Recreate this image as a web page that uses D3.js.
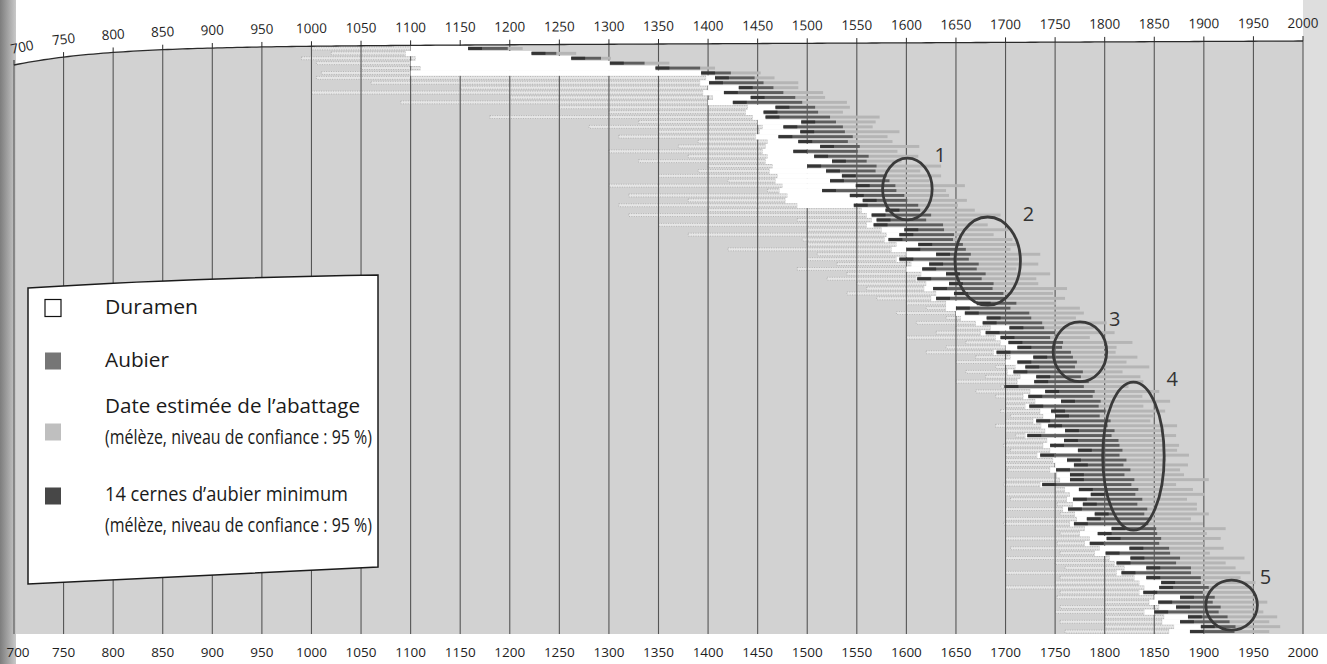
<!DOCTYPE html>
<html><head><meta charset="utf-8">
<script src="https://cdn.jsdelivr.net/npm/d3@7"></script>
<style>
html,body{margin:0;padding:0;background:#fff;}
svg{display:block;font-family:"Open Sans",sans-serif;}
</style></head><body>
<svg id="chart" width="1327" height="664"></svg>
<script>
// ---------------- DATA ----------------
const tickLabels = [700,750,800,850,900,950,1000,1050,1100,1150,1200,1250,1300,1350,1400,1450,1500,1550,1600,1650,1700,1750,1800,1850,1900,1950,2000];

// one entry per sample (row), top to bottom
const lastRing = [1198,1247,1292,1336,1392,1423,1447,1456,1466,1476,
 1488,1495,1508,1511,1523,1529,1536,1538,1546,1541,
 1553,1551,1562,1560,1570,1569,1580,1583,1589,1590,
 1598,1601,1612,1614,1625,1620,1637,1638,1648,1647,
 1657,1660,1665,1663,1673,1671,1680,1676,1688,1687,
 1698,1700,1711,1705,1724,1726,1737,1739,1750,1745,
 1758,1757,1766,1768,1772,1770,1778,1776,1784,1779,
 1790,1788,1796,1794,1801,1795,1806,1803,1810,1807,
 1814,1815,1818,1815,1822,1819,1826,1820,1830,1827,
 1834,1831,1838,1833,1843,1840,1847,1844,1852,1853,
 1857,1855,1865,1866,1876,1872,1887,1887,1897,1897,
 1905,1899,1911,1909,1917,1915,1924,1926,1932,1931];

const sapwoodRings = [40,25,30,35,45,30,40,55,35,60,
 45,70,40,55,65,35,60,45,75,50,
 40,65,55,35,70,50,45,60,40,75,
 55,45,65,35,60,50,70,40,55,65,
 45,60,35,70,50,55,40,65,45,60,
 50,70,40,55,65,45,60,35,70,50,
 55,45,75,40,60,50,70,45,55,80,
 50,65,40,70,55,45,75,60,50,85,
 55,70,45,80,60,50,75,55,65,90,
 60,45,70,55,80,50,65,75,45,60,
 55,70,40,65,50,60,45,70,55,40,
 50,60,35,55,45,65,40,50,35,45];

const fellingSpan = [15,20,10,25,15,30,20,35,25,40,
 30,45,35,25,50,40,30,55,35,45,
 60,40,50,35,65,45,55,40,70,50,
 45,60,40,55,70,50,45,65,40,60,
 55,45,70,50,60,40,65,55,45,75,
 50,60,40,70,55,45,65,50,60,40,
 70,55,45,65,50,75,40,60,55,45,
 65,50,70,45,60,55,40,70,50,65,
 45,60,55,70,40,65,50,60,75,45,
 55,70,45,60,50,65,40,55,70,50,
 60,45,55,40,65,50,45,60,40,55,
 45,50,40,55,35,45,50,40,45,35];

const heartStart = [1100,1095,1105,1100,1110,1100,
 1398,1392,1400,1395,1405,1400,
 1440,1438,1445,1450,1455,1452,1448,1460,1458,
 1455,1460,1458,1465,1462,1470,1468,1475,1472,1480,1478,1490,
 1555,1560,1565,1560,1575,1580,1578,1590,1585,1600,1590,1605,1600,1615,1610,1620,1618,1630,1625,1640,1640,1650,1655,
 1670,1685,1675,1690,1695,1700,1688,1705,1700,1710,1702,1715,1712,1700,
 1725,1718,1730,1720,1735,1738,1728,1736,1740,1720,1742,1738,1745,1732,1748,1750,1745,1752,1755,1735,
 1760,1765,1762,1768,1758,1770,1772,1765,1780,1775,1785,1780,1795,1790,1805,
 1810,1820,1812,1830,1835,1840,1835,1850,1845,1855,1840,1860,1858,1870,1865];

const pithStart = [1000,1020,990,1005,1050,1010,
 1005,1060,1150,1000,1200,1090,1250,1300,1180,1330,1280,1350,1310,1390,1370,
 1300,1380,1330,1400,1390,1350,1420,1300,1460,1320,1380,1310,
 1400,1320,1490,1350,1500,1380,1495,1500,1420,1510,1500,1530,1490,1540,1520,1550,1560,1540,1570,
 1600,1620,1590,1640,1610,1650,1630,1600,1660,1640,1620,1670,1650,1690,1660,1680,1650,1695,1670,1690,1700,
 1700,1695,1705,1700,1690,1700,1710,1700,1698,1705,1700,1700,1700,1702,1755,1700,1698,1750,1700,1705,
 1752,1700,1755,1700,1698,1750,1755,1700,1752,1705,1755,1700,1750,1760,1700,1755,1750,1700,1755,1752,
 1800,1755,1750,1800,1755,1800,1760];

const minSapwoodRings = 14;

// circled groups
const groupLabels = ["1","2","3","4","5"];
const groupYear = [1601,1682,1775,1829,1928];
const groupRow = [29.2,43.9,62.4,83.7,114.1];
const groupYearRadius = [25,33,27,31,26];
const groupRowRadius = [6.3,9.0,6.1,15.1,5.1];

const legendLabels = [
  ["Duramen"],
  ["Aubier"],
  ["Date estimée de l’abattage","(mélèze, niveau de confiance : 95 %)"],
  ["14 cernes d’aubier minimum","(mélèze, niveau de confiance : 95 %)"]
];

// ---------------- STYLE / LAYOUT ----------------
const W = 1327, H = 664;
const plotBottom = 634;
const col = {bg:"#d2d2d2", grid:"#565656", heart:"#ffffff", sap:"#5e5e5e", minSap:"#343434", fell:"#b5b5b5", pith:"#e6e6e6"};
const legendSwatch = [
  {fill:"#ffffff", stroke:"#111"},
  {fill:"#767676", stroke:"none"},
  {fill:"#bfbfbf", stroke:"none"},
  {fill:"#474747", stroke:"none"}
];
const legendRowY = [307, 360, 406, 494];
const legendSwatchDy = [1, 1, 26, 2];
const legendTextWidth = [[93], [64], [255, 267], [243, 267]];

const svg = d3.select("#chart");
const x = d3.scaleLinear().domain([700, 2000]).range([14, 1303]);
const n = lastRing.length;
const yRow = d3.scaleLinear().domain([0, n]).range([46, plotBottom]);
const step = yRow(1) - yRow(0);
const axisY = yr => 41 + 6 * (2000 - yr) / 1300 + 18 * Math.exp(-(yr - 700) / 90);
const axisSlopeDeg = yr => Math.atan2(-6 / 1300 - 0.2 * Math.exp(-(yr - 700) / 90), 0.9915) * 180 / Math.PI;

const defs = svg.append("defs");
const g1 = defs.append("linearGradient").attr("id","gutter").attr("x1","0").attr("x2","1");
g1.append("stop").attr("offset","0").attr("stop-color","#7d7d7d");
g1.append("stop").attr("offset","1").attr("stop-color","#c9c9c9");

svg.append("rect").attr("width", W).attr("height", H).attr("fill", "#fff");
svg.append("rect").attr("x", x(2000)).attr("y", 0).attr("width", W - x(2000)).attr("height", plotBottom)
  .attr("fill", "#dedede");
const curveYears = d3.range(700, 2001, 5);
svg.append("path").datum(curveYears)
  .attr("d", d3.area().x(d => x(d)).y0(plotBottom).y1(d => axisY(d)))
  .attr("fill", col.bg);
svg.append("rect").attr("x", 0).attr("y", 0).attr("width", 16).attr("height", H).attr("fill", "url(#gutter)");

const rows = lastRing.map((lr, i) => ({
  i, lr, sap: lr - sapwoodRings[i], fell: lr + fellingSpan[i],
  heart: heartStart[i], pith: pithStart[i]
}));

const barY = d => yRow(d.i) + step * 0.2;
const barH = step * 0.6;

// pith / unmeasured dotted parts
svg.append("g").selectAll("rect").data(rows.filter(d => d.pith < Math.min(d.heart, d.sap))).join("rect")
  .attr("x", d => x(d.pith)).attr("y", d => yRow(d.i) + 1)
  .attr("width", d => x(Math.min(d.heart, d.sap)) - x(d.pith)).attr("height", step - 2)
  .attr("fill", col.pith).attr("stroke", "#8d8d8d").attr("stroke-width", 0.5)
  .attr("stroke-dasharray", "1 1.4");

// grid lines
svg.append("g").selectAll("line").data(tickLabels).join("line")
  .attr("x1", d => x(d)).attr("x2", d => x(d))
  .attr("y1", d => axisY(d)).attr("y2", plotBottom)
  .attr("stroke", col.grid).attr("stroke-width", 1.1);

// heartwood (white)
svg.append("g").selectAll("rect").data(rows.filter(d => d.heart < d.sap)).join("rect")
  .attr("x", d => x(d.heart)).attr("y", d => yRow(d.i))
  .attr("width", d => x(d.sap) - x(d.heart)).attr("height", step + 0.4)
  .attr("fill", col.heart);

// felling date range
svg.append("g").selectAll("rect").data(rows).join("rect")
  .attr("x", d => x(d.lr)).attr("y", barY)
  .attr("width", d => x(d.fell) - x(d.lr)).attr("height", barH)
  .attr("fill", col.fell);

// sapwood
svg.append("g").selectAll("rect").data(rows).join("rect")
  .attr("x", d => x(d.sap)).attr("y", barY)
  .attr("width", d => x(d.lr) - x(d.sap)).attr("height", barH)
  .attr("fill", col.sap);

// 14 rings minimum
svg.append("g").selectAll("rect").data(rows).join("rect")
  .attr("x", d => x(d.sap)).attr("y", barY)
  .attr("width", d => x(d.sap + minSapwoodRings) - x(d.sap)).attr("height", barH)
  .attr("fill", col.minSap);

// top axis
svg.append("path").datum(curveYears)
  .attr("d", d3.line().x(d => x(d)).y(d => axisY(d)))
  .attr("fill", "none").attr("stroke", "#2b2b2b").attr("stroke-width", 1.3);
svg.append("g").selectAll("line").data(tickLabels).join("line")
  .attr("x1", d => x(d)).attr("x2", d => x(d))
  .attr("y1", d => axisY(d) - 5).attr("y2", d => axisY(d))
  .attr("stroke", "#2b2b2b").attr("stroke-width", 1);
svg.append("g").selectAll("text").data(tickLabels).join("text")
  .attr("transform", d => `translate(${x(d) + (d === 700 ? 8 : 0)},${axisY(d) - 18}) rotate(${axisSlopeDeg(d)})`)
  .attr("text-anchor", "middle").attr("dy", "0.36em")
  .attr("font-size", 13.5).attr("fill", "#1e1e1e").text(d => d);

// bottom labels
svg.append("g").selectAll("text").data(tickLabels).join("text")
  .attr("x", d => x(d) + (d === 700 ? 4 : 0)).attr("y", 657)
  .attr("text-anchor", "middle")
  .attr("font-size", 13.5).attr("fill", "#1e1e1e").text(d => d);

// circled groups
const grp = svg.append("g");
groupLabels.forEach((lab, k) => {
  const cx = x(groupYear[k]), cy = yRow(groupRow[k]);
  const rx = x(groupYear[k] + groupYearRadius[k]) - cx;
  const ry = yRow(groupRow[k] + groupRowRadius[k]) - cy;
  grp.append("ellipse").attr("cx", cx).attr("cy", cy).attr("rx", rx).attr("ry", ry)
    .attr("fill", "none").attr("stroke", "#3a3a3a").attr("stroke-width", 2.8);
  grp.append("text").attr("x", cx + rx + 8).attr("y", cy - ry + 4)
    .attr("text-anchor", "middle").attr("font-size", 20).attr("fill", "#333").text(lab);
});

// legend
const lg = svg.append("g");
lg.append("path")
  .attr("d", "M28,288 Q180,278 378,275 L378,567 L28,584 Z")
  .attr("fill", "#fff").attr("stroke", "#1b1b1b").attr("stroke-width", 1.5);
legendLabels.forEach((lines, k) => {
  const sw = legendSwatch[k];
  lg.append("rect").attr("x", 45).attr("y", legendRowY[k] + legendSwatchDy[k] - 8.5)
    .attr("width", 16).attr("height", 17)
    .attr("fill", sw.fill).attr("stroke", sw.stroke).attr("stroke-width", 1.2);
  lines.forEach((t, j) => {
    lg.append("text").attr("x", 105).attr("y", legendRowY[k] + j * 31)
      .attr("dy", "0.35em").attr("font-size", 19.5).attr("fill", "#1a1a1a")
      .attr("textLength", legendTextWidth[k][j]).attr("lengthAdjust", "spacingAndGlyphs")
      .text(t);
  });
});
</script>
</body></html>
